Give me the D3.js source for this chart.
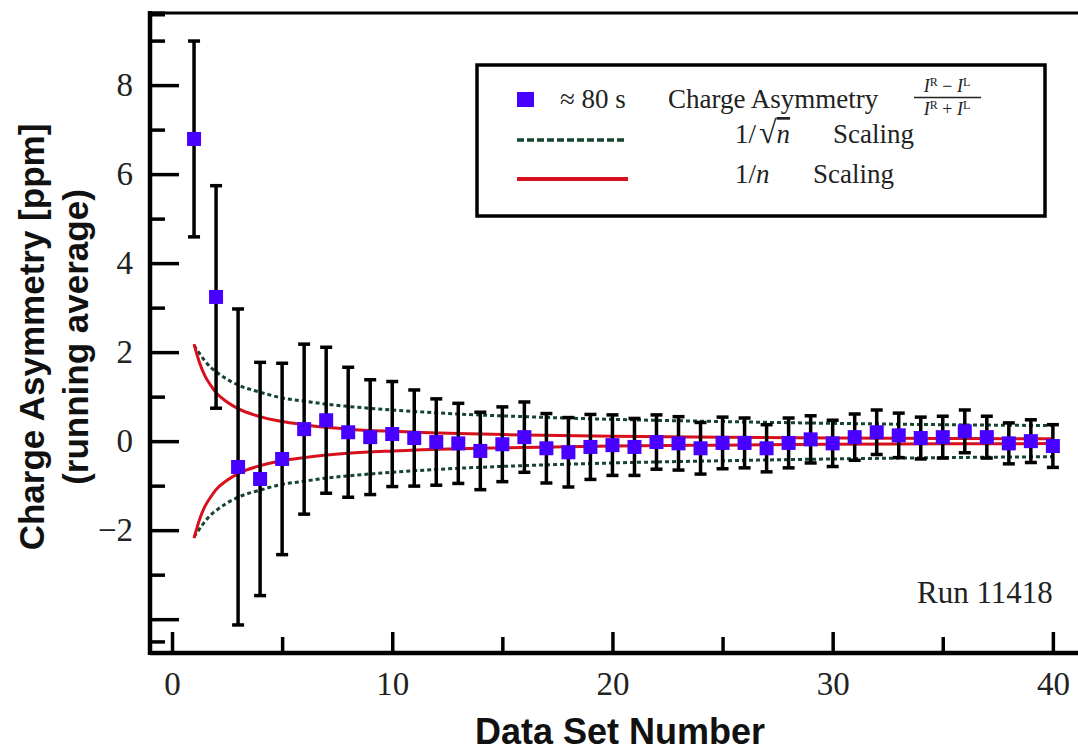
<!DOCTYPE html>
<html>
<head>
<meta charset="utf-8">
<script src="https://cdn.jsdelivr.net/npm/d3@7"></script>
<style>
  body { margin: 0; background: #fff; }
  .axis text { font-family: "Liberation Serif", serif; font-size: 33px; fill: #222; }
  .axis .domain { display: none; }
  .serif { font-family: "Liberation Serif", serif; fill: #222; }
  .title { font-family: "Liberation Sans", Arial, sans-serif; font-weight: bold; fill: #111; }
</style>
</head>
<body>
<div id="chart"></div>
<script>
// data set number (x) and running average of the charge asymmetry in ppm
const setNumbers = [1, 2, 3, 4, 5, 6, 7, 8, 9, 10, 11, 12, 13, 14, 15, 16, 17, 18, 19, 20,
  21, 22, 23, 24, 25, 26, 27, 28, 29, 30, 31, 32, 33, 34, 35, 36, 37, 38, 39, 40];
const asymmetry = [6.79, 3.24, -0.58, -0.85, -0.40, 0.27, 0.47, 0.20, 0.09, 0.16,
  0.07, -0.02, -0.05, -0.22, -0.07, 0.09, -0.16, -0.25, -0.13, -0.09,
  -0.13, -0.02, -0.05, -0.16, -0.04, -0.04, -0.16, -0.04, 0.04, -0.05,
  0.09, 0.20, 0.13, 0.07, 0.09, 0.22, 0.09, -0.05, 0.00, -0.11];
const asymErr = [2.2, 2.5, 3.55, 2.62, 2.15, 1.91, 1.64, 1.46, 1.29, 1.18,
  1.08, 0.97, 0.90, 0.87, 0.84, 0.79, 0.78, 0.78, 0.73, 0.68,
  0.64, 0.61, 0.60, 0.58, 0.58, 0.56, 0.53, 0.56, 0.53, 0.52,
  0.52, 0.50, 0.50, 0.47, 0.47, 0.48, 0.47, 0.46, 0.48, 0.48];

// scaling envelopes (upper branch, mirrored below zero)
const curveN = [1, 1.25, 1.5, 1.75, 2, 2.5, 3, 4, 5, 6, 7, 8, 10, 13, 16, 20, 25, 30, 35, 40];
const sqrtScaling = [2.15, 1.97, 1.8, 1.66, 1.56, 1.39, 1.26, 1.1, 0.97, 0.9, 0.83, 0.78, 0.7,
  0.61, 0.55, 0.49, 0.44, 0.40, 0.37, 0.35];
const invScaling = [2.18, 1.76, 1.46, 1.26, 1.09, 0.88, 0.73, 0.55, 0.44, 0.37, 0.31, 0.27, 0.22,
  0.17, 0.14, 0.11, 0.09, 0.07, 0.06, 0.055];

const xTicks = [0, 10, 20, 30, 40];
const xMinorTicks = [5, 15, 25, 35];
const yTicks = [-4, -2, 0, 2, 4, 6, 8];
const yTickLabels = ["", "\u22122", "0", "2", "4", "6", "8"];
const yMinorTicks = [-4.5, -3, -1, 1, 3, 5, 7, 9];

const W = 1078, H = 752;
const margin = { top: 13, right: 2, bottom: 99, left: 150 };
const width = W - margin.left - margin.right;
const height = H - margin.top - margin.bottom;

const blue = "#4800ff", red = "#d8101c", green = "#15452f";

const svg = d3.select("#chart").append("svg")
  .attr("width", W)
  .attr("height", H);

const g = svg.append("g")
  .attr("transform", `translate(${margin.left},${margin.top})`);

// scales
const x = d3.scaleLinear().domain([-1, 41.05]).range([0, width]);
const y = d3.scaleLinear().domain([-4.76, 9.62]).range([height, 0]);

// envelopes
const envelope = (vals, sign) => d3.line()
  .x((d, i) => x(curveN[i]))
  .y((d, i) => y(sign * vals[i]))
  .curve(d3.curveMonotoneX)(vals);

[1, -1].forEach(s => {
  g.append("path")
    .attr("d", envelope(sqrtScaling, s))
    .style("fill", "none")
    .style("stroke", green)
    .style("stroke-width", 3)
    .style("stroke-dasharray", "4,3");
  g.append("path")
    .attr("d", envelope(invScaling, s))
    .style("fill", "none")
    .style("stroke", red)
    .style("stroke-width", 3);
});

// error bars
const pts = setNumbers.map((n, i) => ({ n: n, v: asymmetry[i], e: asymErr[i] }));
const bars = g.selectAll(".err").data(pts).enter().append("g")
  .attr("class", "err")
  .style("stroke", "#000")
  .style("stroke-width", 3.5);
bars.append("line")
  .attr("x1", d => x(d.n)).attr("x2", d => x(d.n))
  .attr("y1", d => y(d.v + d.e)).attr("y2", d => y(d.v - d.e));
bars.append("line")
  .attr("x1", d => x(d.n) - 6).attr("x2", d => x(d.n) + 6)
  .attr("y1", d => y(d.v + d.e)).attr("y2", d => y(d.v + d.e));
bars.append("line")
  .attr("x1", d => x(d.n) - 6).attr("x2", d => x(d.n) + 6)
  .attr("y1", d => y(d.v - d.e)).attr("y2", d => y(d.v - d.e));

// markers
g.selectAll(".pt").data(pts).enter().append("rect")
  .attr("class", "pt")
  .attr("x", d => x(d.n) - 7)
  .attr("y", d => y(d.v) - 7)
  .attr("width", 14)
  .attr("height", 14)
  .style("fill", blue);

// axes
const xAxis = d3.axisBottom(x).tickValues(xTicks).tickSizeInner(-21).tickSizeOuter(0).tickPadding(19);
const xMinor = d3.axisBottom(x).tickValues(xMinorTicks).tickSizeInner(-16).tickSizeOuter(0).tickFormat("");
const yAxis = d3.axisLeft(y).tickValues(yTicks).tickSizeInner(-29).tickSizeOuter(0).tickPadding(17)
  .tickFormat((d, i) => yTickLabels[i]);
const yMinor = d3.axisLeft(y).tickValues(yMinorTicks).tickSizeInner(-15).tickSizeOuter(0).tickFormat("");

[xAxis, xMinor].forEach(a => {
  g.append("g").attr("class", "axis x-axis")
    .attr("transform", `translate(0,${height})`)
    .call(a);
});
[yAxis, yMinor].forEach(a => {
  g.append("g").attr("class", "axis y-axis").call(a);
});
g.selectAll(".axis .tick line").style("stroke", "#000").style("stroke-width", 3.5);

// frame
g.append("line").attr("x1", 0).attr("x2", width + margin.right).attr("y1", height).attr("y2", height)
  .style("stroke", "#000").style("stroke-width", 4.5);
g.append("line").attr("x1", 0).attr("x2", 0).attr("y1", -2).attr("y2", height + 2)
  .style("stroke", "#000").style("stroke-width", 4.5);
g.append("line").attr("x1", 0).attr("x2", width + margin.right).attr("y1", 0).attr("y2", 0)
  .style("stroke", "#000").style("stroke-width", 3);
g.append("line").attr("x1", 0).attr("x2", 15).attr("y1", 1).attr("y2", 1)
  .style("stroke", "#000").style("stroke-width", 5);

// axis titles
svg.append("text").attr("class", "title")
  .attr("x", 620).attr("y", 744)
  .attr("text-anchor", "middle")
  .style("font-size", "36px")
  .text("Data Set Number");

const yt = svg.append("g").attr("transform", "translate(0,337) rotate(-90)");
yt.append("text").attr("class", "title")
  .attr("x", 0).attr("y", 44).attr("text-anchor", "middle")
  .style("font-size", "35px")
  .text("Charge Asymmetry [ppm]");
yt.append("text").attr("class", "title")
  .attr("x", 0).attr("y", 88).attr("text-anchor", "middle")
  .style("font-size", "35px")
  .text("(running average)");

// run label
svg.append("text").attr("class", "serif")
  .attr("x", 917).attr("y", 603)
  .style("font-size", "31px")
  .text("Run 11418");

// legend
const lg = svg.append("g");
lg.append("rect")
  .attr("x", 477).attr("y", 65).attr("width", 568).attr("height", 151)
  .style("fill", "#fff").style("stroke", "#000").style("stroke-width", 3.5);

lg.append("rect").attr("x", 517).attr("y", 92).attr("width", 17).attr("height", 15).style("fill", blue);
lg.append("text").attr("class", "serif").attr("x", 560).attr("y", 108)
  .style("font-size", "27px").text("\u2248 80 s");
lg.append("text").attr("class", "serif").attr("x", 668).attr("y", 108)
  .style("font-size", "27px").text("Charge Asymmetry");

// fraction (I^R - I^L) / (I^R + I^L)
const frac = lg.append("g").attr("class", "serif").style("font-size", "18px");
const num = frac.append("text").attr("x", 947).attr("y", 92).attr("text-anchor", "middle");
const den = frac.append("text").attr("x", 947).attr("y", 115).attr("text-anchor", "middle");
[[num, " \u2212 "], [den, " + "]].forEach(([t, op]) => {
  t.append("tspan").style("font-style", "italic").text("I");
  t.append("tspan").attr("dy", -6).style("font-size", "12px").text("R");
  t.append("tspan").attr("dy", 6).text(op);
  t.append("tspan").style("font-style", "italic").text("I");
  t.append("tspan").attr("dy", -6).style("font-size", "12px").text("L");
});
frac.append("line").attr("x1", 914).attr("x2", 981).attr("y1", 97.5).attr("y2", 97.5)
  .style("stroke", "#222").style("stroke-width", 1.5);

lg.append("line").attr("x1", 517).attr("x2", 624).attr("y1", 140).attr("y2", 140)
  .style("stroke", green).style("stroke-width", 3.5).style("stroke-dasharray", "7,3");
const t2 = lg.append("text").attr("class", "serif").attr("x", 735).attr("y", 143).style("font-size", "27px");
t2.append("tspan").text("1/");
t2.append("tspan").attr("dx", 3).style("font-size", "32px").text("\u221A");
t2.append("tspan").style("font-style", "italic").style("text-decoration", "overline").text("n");
t2.append("tspan").attr("x", 833).text("Scaling");

lg.append("line").attr("x1", 517).attr("x2", 628).attr("y1", 179).attr("y2", 179)
  .style("stroke", red).style("stroke-width", 4);
const t3 = lg.append("text").attr("class", "serif").attr("x", 735).attr("y", 183).style("font-size", "27px");
t3.append("tspan").text("1/");
t3.append("tspan").style("font-style", "italic").text("n");
t3.append("tspan").attr("x", 813).text("Scaling");
</script>
</body>
</html>
